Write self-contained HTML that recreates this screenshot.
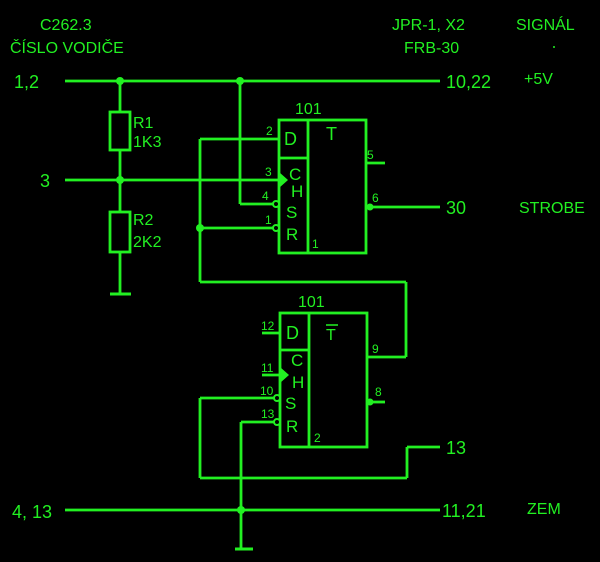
<!DOCTYPE html>
<html><head><style>
body{margin:0;background:#000;}
svg{display:block}
text{font-family:"Liberation Sans",sans-serif;fill:#22f022;}
</style></head><body>
<svg width="600" height="562" viewBox="0 0 600 562" xmlns="http://www.w3.org/2000/svg">
<g stroke="#22f022" stroke-width="2.8" fill="none">
<line x1="65" y1="81" x2="440" y2="81"/>
<line x1="120" y1="81" x2="120" y2="112"/>
<rect x="110" y="112" width="20" height="38"/>
<line x1="120" y1="150" x2="120" y2="212"/>
<rect x="110" y="212" width="20" height="40"/>
<line x1="120" y1="252" x2="120" y2="294"/>
<line x1="110" y1="294" x2="131" y2="294" stroke-width="3"/>
<line x1="65" y1="180" x2="280" y2="180"/>
<line x1="240" y1="81" x2="240" y2="204"/>
<line x1="240" y1="204" x2="275" y2="204"/>
<line x1="200" y1="139" x2="279" y2="139"/>
<line x1="200" y1="139" x2="200" y2="282"/>
<line x1="200" y1="228" x2="275" y2="228"/>
<line x1="200" y1="282" x2="406" y2="282"/>
<line x1="406" y1="282" x2="406" y2="357"/>
<line x1="367" y1="357" x2="406" y2="357"/>
<rect x="279" y="120" width="87" height="133"/>
<line x1="308" y1="120" x2="308" y2="253"/>
<line x1="279" y1="158" x2="308" y2="158"/>
<line x1="366" y1="163" x2="385" y2="163"/>
<line x1="370" y1="207" x2="440" y2="207"/>
<rect x="280" y="313" width="87" height="134"/>
<line x1="309" y1="313" x2="309" y2="447"/>
<line x1="280" y1="350" x2="309" y2="350"/>
<line x1="262" y1="333" x2="280" y2="333"/>
<line x1="262" y1="375" x2="282" y2="375"/>
<line x1="200" y1="398" x2="276" y2="398"/>
<line x1="200" y1="398" x2="200" y2="478"/>
<line x1="200" y1="478" x2="407" y2="478"/>
<line x1="407" y1="478" x2="407" y2="447"/>
<line x1="407" y1="447" x2="440" y2="447"/>
<line x1="241" y1="422" x2="276" y2="422"/>
<line x1="241" y1="422" x2="241" y2="549"/>
<line x1="235" y1="549" x2="253" y2="549" stroke-width="3"/>
<line x1="65" y1="510" x2="440" y2="510"/>
<line x1="371" y1="402" x2="385" y2="402"/>
</g>
<g fill="#22f022">
<circle cx="120" cy="81" r="4"/><circle cx="240" cy="81" r="4"/>
<circle cx="120" cy="180" r="4"/><circle cx="200" cy="228" r="4"/>
<circle cx="241" cy="510" r="4"/>
<polygon points="279,172 288,180 279,188"/>
<polygon points="280,367 289,375 280,383"/>
<circle cx="370" cy="207" r="3.5"/>
<circle cx="370" cy="402" r="3.5"/>
<circle cx="554" cy="47" r="1"/>
</g>
<g fill="#000" stroke="#22f022" stroke-width="2">
<circle cx="276" cy="204" r="3"/><circle cx="276" cy="228" r="3"/>
<circle cx="277" cy="398" r="3"/><circle cx="277" cy="422" r="3"/>
</g>
<g font-size="16">
<text x="40" y="30">C262.3</text>
<text x="10" y="53">ČÍSLO VODIČE</text>
<text x="392" y="30">JPR-1, X2</text>
<text x="404" y="53">FRB-30</text>
<text x="516" y="30">SIGNÁL</text>
<text x="14" y="88" font-size="18">1,2</text>
<text x="40" y="187" font-size="18">3</text>
<text x="12" y="518" font-size="18">4, 13</text>
<text x="446" y="88" font-size="18">10,22</text>
<text x="524" y="84">+5V</text>
<text x="446" y="214" font-size="18">30</text>
<text x="519" y="213">STROBE</text>
<text x="446" y="454" font-size="18">13</text>
<text x="442" y="517" font-size="18">11,21</text>
<text x="527" y="514">ZEM</text>
<text x="133" y="128">R1</text><text x="133" y="147">1K3</text>
<text x="133" y="225">R2</text><text x="133" y="247">2K2</text>
<text x="295" y="114">101</text><text x="298" y="307">101</text>
<text x="284" y="145" font-size="18">D</text>
<text x="326" y="140" font-size="18">T</text>
<text x="289" y="180" font-size="17">C</text><text x="291" y="197" font-size="17">H</text>
<text x="286" y="218" font-size="17">S</text><text x="286" y="240" font-size="17">R</text>
<text x="286" y="339" font-size="18">D</text>
<text x="326" y="340" font-size="16">T</text>
<line x1="326" y1="325" x2="338" y2="325" stroke="#22f022" stroke-width="1.5"/>
<text x="291" y="366" font-size="17">C</text><text x="292" y="388" font-size="17">H</text>
<text x="285" y="409" font-size="17">S</text><text x="286" y="432" font-size="17">R</text>
</g>
<g font-size="12">
<text x="266" y="135">2</text><text x="265" y="176">3</text><text x="262" y="200">4</text>
<text x="265" y="224">1</text><text x="312" y="248">1</text>
<text x="367" y="159">5</text><text x="372" y="202">6</text>
<text x="261" y="330">12</text><text x="261" y="372">11</text><text x="260" y="395">10</text>
<text x="261" y="418">13</text><text x="314" y="442">2</text>
<text x="372" y="353">9</text><text x="375" y="396">8</text>
</g>
</svg>
</body></html>
